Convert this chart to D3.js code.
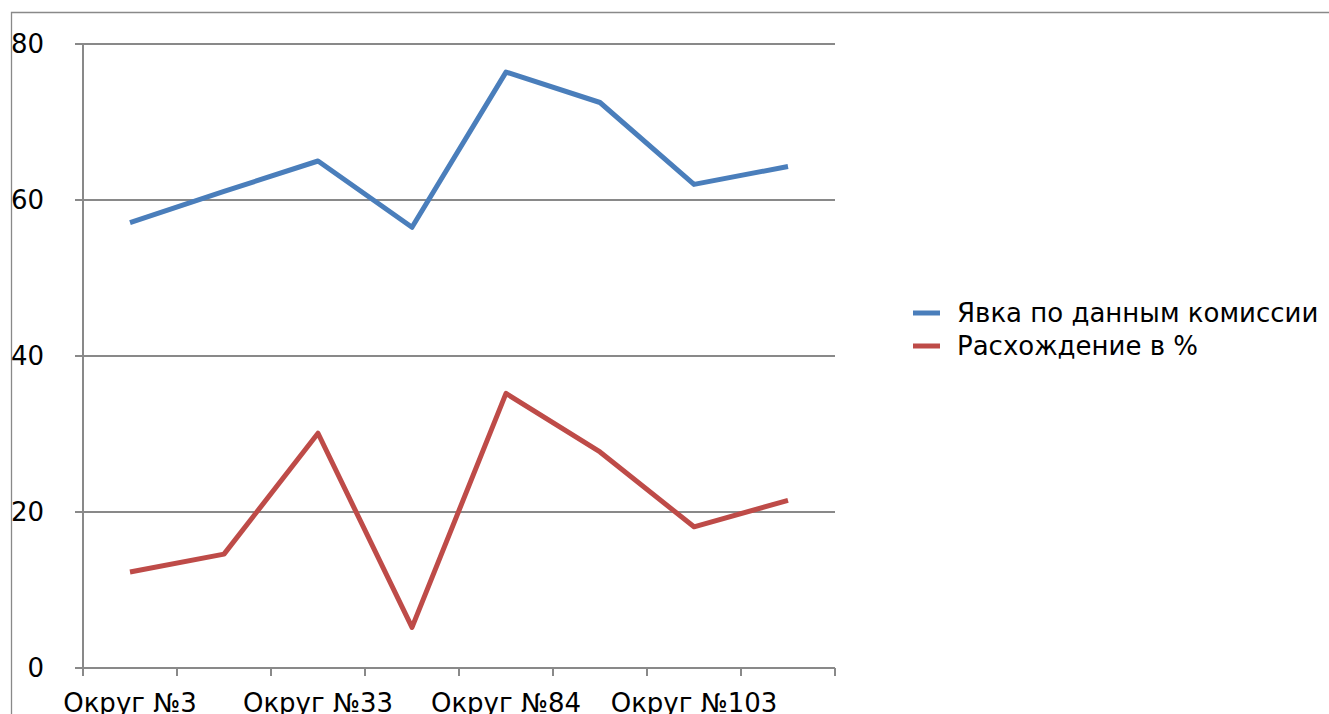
<!DOCTYPE html>
<html>
<head>
<meta charset="utf-8">
<script src="https://cdn.jsdelivr.net/npm/d3@7"></script>
<style>
  body { margin: 0; background: #fff; }
  text { font-family: "DejaVu Sans", Verdana, sans-serif; fill: #000; }
</style>
</head>
<body>
<div id="chart"></div>
<script>
// categories: only every second label is shown on the original axis
var categories = ["Округ №3", "", "Округ №33", "", "Округ №84", "", "Округ №103", ""];
var turnout = [57.1, 61.1, 65.0, 56.5, 76.4, 72.5, 62.0, 64.3];
var discrepancy = [12.3, 14.6, 30.1, 5.2, 35.2, 27.7, 18.1, 21.5];
var seriesNames = ["Явка по данным комиссии", "Расхождение в %"];
var seriesColors = ["#4a7ebb", "#be4b48"];
var yTicks = [0, 20, 40, 60, 80];

var width = 1329, height = 714;
var plot = {left: 83, right: 835, top: 44, bottom: 668};
var fontSize = 26;

const svg = d3.select("#chart")
    .append("svg")
    .attr("width", width)
    .attr("height", height);

// outer chart frame
svg.append("path")
    .attr("d", "M11.5," + height + "V12.5H" + width)
    .attr("fill", "none")
    .attr("stroke", "#898989")
    .attr("stroke-width", 1.3);

const x = d3.scaleLinear()
    .domain([0, categories.length])
    .range([plot.left, plot.right]);

const y = d3.scaleLinear()
    .domain([0, 80])
    .range([plot.bottom, plot.top]);

// gridlines
svg.append("g")
    .selectAll("line")
    .data(yTicks)
    .join("line")
    .attr("x1", plot.left - 8)
    .attr("x2", plot.right)
    .attr("y1", d => y(d))
    .attr("y2", d => y(d))
    .attr("stroke", "#898989")
    .attr("stroke-width", 2);

// y axis line
svg.append("line")
    .attr("x1", plot.left)
    .attr("x2", plot.left)
    .attr("y1", plot.top)
    .attr("y2", plot.bottom)
    .attr("stroke", "#898989")
    .attr("stroke-width", 2);

svg.append("g")
    .selectAll("text")
    .data(yTicks)
    .join("text")
    .text(d => d)
    .attr("x", 44)
    .attr("y", d => y(d))
    .attr("dy", "0.36em")
    .attr("text-anchor", "end")
    .style("font-size", fontSize + "px");

// x axis tick marks at category boundaries
svg.append("g")
    .selectAll("line")
    .data(d3.range(categories.length + 1))
    .join("line")
    .attr("x1", d => x(d))
    .attr("x2", d => x(d))
    .attr("y1", plot.bottom)
    .attr("y2", plot.bottom + 8)
    .attr("stroke", "#898989")
    .attr("stroke-width", 2);

svg.append("g")
    .selectAll("text")
    .data(categories)
    .join("text")
    .text(d => d)
    .attr("x", (d, i) => x(i + 0.5))
    .attr("y", 712)
    .attr("text-anchor", "middle")
    .style("font-size", fontSize + "px");

// series lines
const line = d3.line()
    .x((d, i) => x(i + 0.5))
    .y(d => y(d));

[turnout, discrepancy].forEach((values, k) => {
    svg.append("path")
        .datum(values)
        .attr("d", line)
        .attr("fill", "none")
        .attr("stroke", seriesColors[k])
        .attr("stroke-width", 5)
        .attr("stroke-linejoin", "round");
});

// legend
let level = 313;
seriesNames.forEach((name, k) => {
    svg.append("line")
        .attr("x1", 913)
        .attr("x2", 940)
        .attr("y1", level)
        .attr("y2", level)
        .attr("stroke", seriesColors[k])
        .attr("stroke-width", 5);
    svg.append("text")
        .text(name)
        .attr("x", 957)
        .attr("y", level)
        .attr("dy", "0.36em")
        .style("font-size", fontSize + "px");
    level += 33;
});
</script>
</body>
</html>
